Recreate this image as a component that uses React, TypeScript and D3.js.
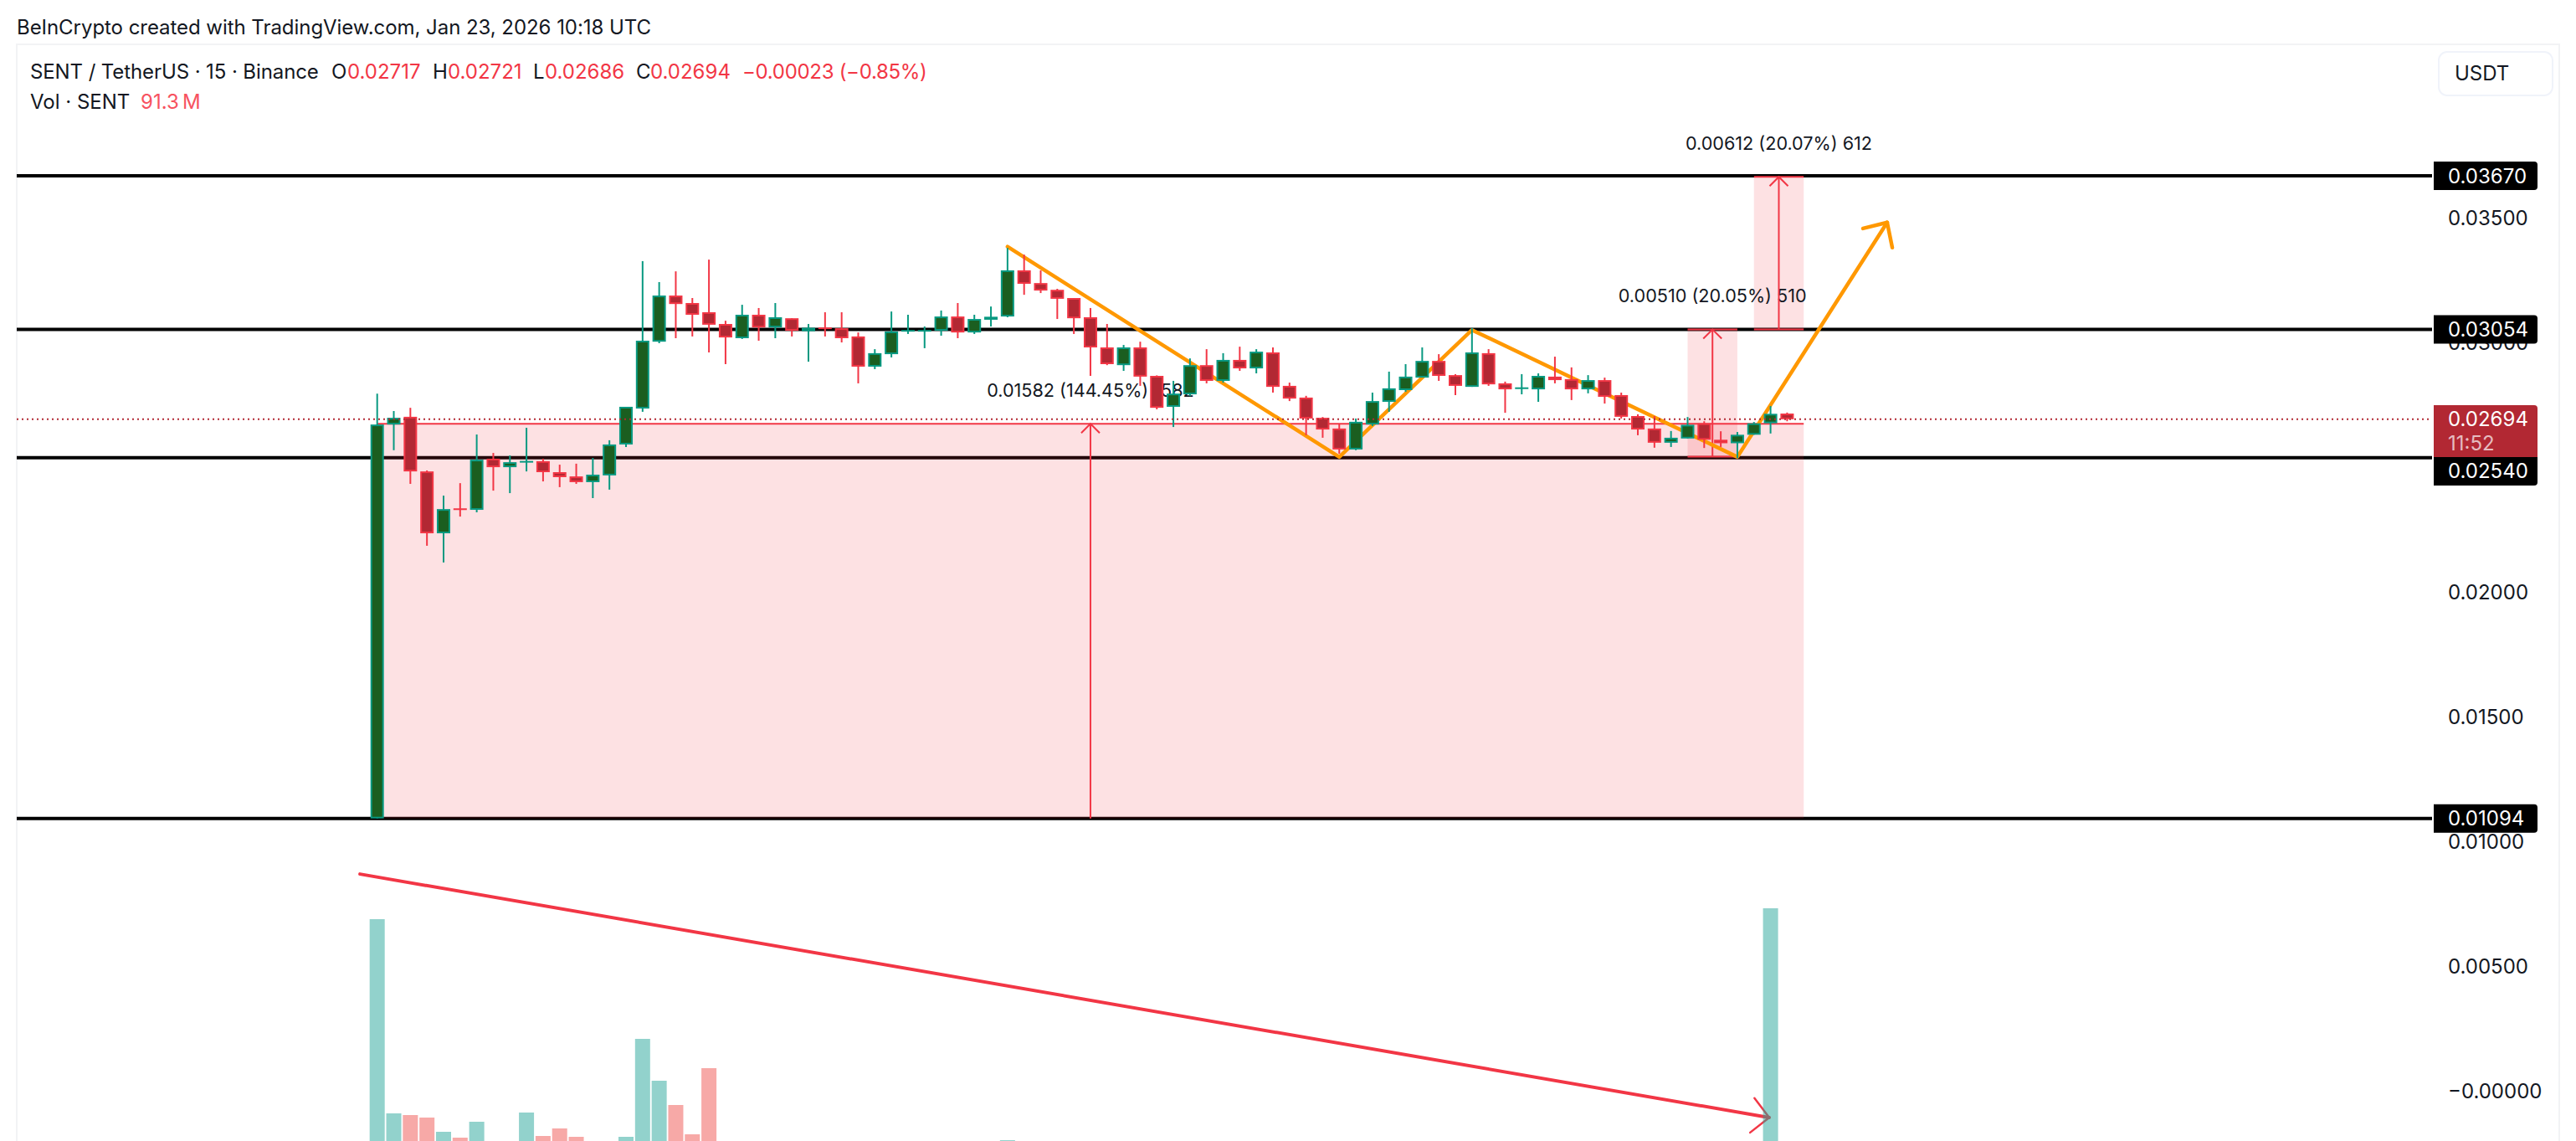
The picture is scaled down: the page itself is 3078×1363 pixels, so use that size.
import React from "react";
import * as d3 from "d3";

// All prices are stored in units of 0.00001 USDT.
const opens = [
  1094,2673,2704,2485,2237,2337,2331,2536,2502,2525,
  2526,2482,2465,2442,2469,2593,2737,3005,3190,3160,
  3123,3076,3019,3113,3062,3099,3047,3062,3059,3026,
  2905,2955,3050,3050,3049,3106,3042,3093,3106,3291,
  3240,3213,3180,3103,2982,2911,2982,2868,2744,2794,
  2911,2848,2932,2898,2962,2828,2781,2700,2657,2573,
  2673,2764,2811,2861,2928,2871,2824,2959,2838,2820,
  2814,2865,2855,2814,2851,2791,2707,2657,2600,2617,
  2678,2612,2598,2632,2678,2717];
const closes = [
  2673,2700,2485,2237,2334,2334,2532,2502,2522,2527,
  2482,2462,2442,2472,2593,2744,3009,3190,3156,3113,
  3073,3022,3113,3062,3103,3049,3061,3060,3019,2905,
  2959,3046,3052,3052,3106,3042,3096,3105,3291,3237,
  3210,3177,3099,2982,2915,2982,2865,2740,2797,2911,
  2848,2932,2898,2965,2824,2777,2697,2653,2573,2684,
  2767,2818,2865,2928,2868,2828,2962,2834,2814,2822,
  2868,2851,2814,2851,2784,2704,2653,2600,2620,2672,
  2612,2598,2632,2678,2716,2694];
const highs = [
  2797,2727,2740,2489,2388,2438,2633,2559,2549,2660,
  2536,2512,2516,2539,2610,2744,3328,3244,3287,3180,
  3334,3089,3153,3140,3160,3099,3076,3123,3123,3042,
  2975,3126,3113,3066,3130,3160,3113,3146,3381,3354,
  3291,3217,3180,3140,3076,2992,3005,2870,2848,2938,
  2975,2959,2985,2975,2982,2841,2788,2703,2675,2697,
  2801,2885,2915,2982,2955,2875,3060,2975,2845,2875,
  2878,2945,2902,2871,2861,2801,2714,2707,2647,2703,
  2686,2646,2643,2683,2747,2721];
const lows = [
  1094,2570,2435,2187,2120,2304,2321,2408,2398,2485,
  2445,2422,2435,2378,2412,2583,2724,2999,3019,3026,
  2962,2915,3016,3009,3019,3026,2925,3026,3002,2838,
  2895,2942,3036,2979,3029,3019,3036,3066,3103,3193,
  3200,3096,3036,2868,2911,2888,2828,2734,2663,2787,
  2838,2841,2888,2878,2801,2767,2630,2620,2556,2570,
  2667,2724,2804,2861,2848,2791,2824,2828,2720,2794,
  2764,2838,2771,2798,2757,2697,2630,2580,2583,2617,
  2579,2583,2538,2632,2637,2686];
// Volume in millions; 0 = hidden below the cropped edge of the picture.
const volumes = [
  5400,760,720,660,320,180,560,0,0,780,
  220,400,200,0,0,200,2540,1540,960,260,
  1840,0,0,0,0,0,0,0,0,0,
  0,0,0,0,0,0,0,0,120,0,
  0,0,0,0,0,0,0,0,0,0,
  0,0,0,0,0,0,0,0,0,0,
  0,0,0,0,0,0,0,0,0,0,
  0,0,0,0,0,0,0,0,0,0,
  0,0,0,0,5660,91.3];

const axisTicks = [3500, 3000, 2500, 2000, 1500, 1000, 500];
const zeroTickLabel = "\u22120.00000";
const horizontalLevels = [3670, 3054, 2540, 1094];
const lastPrice = 2694;

// [startIndex, endIndex, bottom, top, label]
const ranges: [number, number, number, number, string][] = [
  [0, 86, 1094, 2676, "0.01582 (144.45%) 1582"],
  [79, 82, 2544, 3054, "0.00510 (20.05%) 510"],
  [83, 86, 3054, 3666, "0.00612 (20.07%) 612"],
];
const orangePath: [number, number][] = [[38, 3386], [58, 2543], [66, 3052], [82, 2543], [91.03, 3483]];
const orangeHead: [number, number][] = [[89.57, 3459], [91.03, 3483], [91.34, 3382]];
const volTrend: [number, number][] = [[-1.04, 871], [83.92, -105]];
const volHead: [number, number][] = [[83.03, -27], [83.92, -105], [82.77, -165]];

const GREEN = "#089981", GREEN_FILL = "#1b5e20", RED = "#f23645", RED_FILL = "#b22833";
const INK = "#131722";
const FONT = "Inter, 'Noto Sans', sans-serif";

const x = d3.scaleLinear().domain([0, 85]).range([450.7, 2135.4]);
const y = d3.scaleLinear().domain([0, 3670]).range([1303.7, 210]);
const yv = d3.scaleLinear().domain([0, 6000]).range([1368, 1068]);
const lineGen = d3.line<[number, number]>().x((d) => x(d[0])).y((d) => y(d[1]));
const fmt = (v: number) => (v / 100000).toFixed(5);

function PriceTag({ value, fill, h = 34 }: { value: number; fill: string; h?: number }) {
  const cy = y(value);
  return (
    <g>
      <path d={`M2908 ${cy - h / 2}H3028a4 4 0 0 1 4 4V${cy + h / 2 - 4}a4 4 0 0 1 -4 4H2908Z`} fill={fill} />
      <text x={2925} y={cy} dy="0.36em" fontSize={24} fill="#fff">{fmt(value)}</text>
    </g>
  );
}

export default function App() {
  const n = opens.length;
  const idx = d3.range(n);
  return (
    <svg width={3078} height={1363} viewBox="0 0 3078 1363"
      style={{ position: "absolute", left: 0, top: 0, background: "#fff" }} fontFamily={FONT}>
      <text x={20} y={32} dy="0.36em" fontSize={24} letterSpacing={-0.05} fill={INK}>BeInCrypto created with TradingView.com, Jan 23, 2026 10:18 UTC</text>
      <path d="M20 1363V53H3058V1363" fill="none" stroke="#f2f3f5" strokeWidth={2} />

      {/* levels */}
      {horizontalLevels.map((l) => (
        <line key={l} x1={20} x2={2906} y1={y(l)} y2={y(l)} stroke="#000" strokeWidth={4} />
      ))}

      {/* price ranges */}
      {ranges.map(([a, b, lo, hi], i) => (
        <rect key={i} x={x(a)} width={x(b) - x(a)} y={y(hi)} height={y(lo) - y(hi)} fill={RED} fillOpacity={0.15} />
      ))}
      {ranges.map(([a, b, lo, hi, label], i) => {
        const mx = x((a + b) / 2);
        const ly = y(hi);
        return (
          <g key={i} stroke={RED} fill="none" strokeWidth={2}>
            <line x1={x(a)} x2={x(b)} y1={ly} y2={ly} />
            {i > 0 && <line x1={x(a)} x2={x(b)} y1={y(lo)} y2={y(lo)} />}
            <line x1={mx} x2={mx} y1={y(lo)} y2={ly} />
            <path d={`M${mx - 11} ${ly + 11}L${mx} ${ly}L${mx + 11} ${ly + 11}`} />
            <text x={mx} y={ly - 40} dy="0.36em" textAnchor="middle" fontSize={21.6} fill={INK} stroke="none">{label}</text>
          </g>
        );
      })}

      {/* orange pattern */}
      <g fill="none" stroke="#ff9800" strokeWidth={4.5} strokeLinecap="round" strokeLinejoin="round">
        <path d={lineGen(orangePath)!} />
        <path d={lineGen(orangeHead)!} />
      </g>

      {/* volume trend */}
      <g fill="none" stroke={RED} strokeLinecap="round" strokeLinejoin="round">
        <path d={lineGen(volTrend)!} strokeWidth={4} />
        <path d={lineGen(volHead)!} strokeWidth={2.5} />
      </g>

      {/* volume */}
      {idx.filter((i) => volumes[i] > 0).map((i) => (
        <rect key={i} x={x(i) - 9} width={18} y={yv(volumes[i])} height={Math.max(0, yv(0) - yv(volumes[i]))}
          fill={closes[i] >= opens[i] ? "#26a69a" : "#ef5350"} fillOpacity={0.5} />
      ))}

      {/* candles */}
      {idx.map((i) => {
        const up = closes[i] >= opens[i];
        const top = y(Math.max(opens[i], closes[i]));
        const bot = y(Math.min(opens[i], closes[i]));
        const h = Math.max(2, bot - top);
        const cx = x(i);
        return (
          <g key={i}>
            <line x1={cx} x2={cx} y1={y(highs[i])} y2={y(lows[i])} stroke={up ? GREEN : RED} strokeWidth={2} />
            <rect x={cx - 8} width={16} y={top} height={h} fill={up ? GREEN : RED} />
            {h > 4 && <rect x={cx - 6} width={12} y={top + 2} height={h - 4} fill={up ? GREEN_FILL : RED_FILL} />}
          </g>
        );
      })}

      {/* last price line */}
      <line x1={20} x2={2906} y1={y(lastPrice)} y2={y(lastPrice)} stroke={RED_FILL} strokeWidth={2} strokeDasharray="2 4" />

      {/* legend */}
      <g fontSize={24} fill={INK}>
        <text x={36} y={85} dy="0.36em" letterSpacing={-0.1}>SENT / TetherUS · 15 · Binance</text>
        <text x={396} y={85} dy="0.36em">O</text>
        <text x={415} y={85} dy="0.36em" fill={RED}>0.02717</text>
        <text x={517} y={85} dy="0.36em">H</text>
        <text x={535} y={85} dy="0.36em" fill={RED}>0.02721</text>
        <text x={637} y={85} dy="0.36em">L</text>
        <text x={651} y={85} dy="0.36em" fill={RED}>0.02686</text>
        <text x={760} y={85} dy="0.36em">C</text>
        <text x={777} y={85} dy="0.36em" fill={RED}>0.02694</text>
        <text x={887} y={85} dy="0.36em" fill={RED} letterSpacing={-0.3}>−0.00023 (−0.85%)</text>
        <text x={36} y={121} dy="0.36em">Vol · SENT</text>
        <text x={168} y={121} dy="0.36em" fill="#f7525f">91.3{"\u2009"}M</text>
      </g>

      {/* USDT button */}
      <rect x={2914} y={62} width={136} height={52} rx={10} fill="#fff" stroke="#f0f3fa" strokeWidth={2} />
      <text x={2933} y={87.5} dy="0.36em" fontSize={24} fill={INK}>USDT</text>

      {/* axis */}
      <g fontSize={24} fill={INK}>
        {axisTicks.map((t) => (
          <text key={t} x={2925} y={y(t)} dy="0.36em">{fmt(t)}</text>
        ))}
        <text x={2925} y={y(0)} dy="0.36em">{zeroTickLabel}</text>
      </g>

      {/* price tags */}
      <PriceTag value={3670} fill="#000" />
      <PriceTag value={3054} fill="#000" />
      <path d={`M2908 484H3028a4 4 0 0 1 4 4V546H2908Z`} fill={RED_FILL} />
      <text x={2925} y={y(lastPrice)} dy="0.36em" fontSize={24} fill="#fff">{fmt(lastPrice)}</text>
      <text x={2925} y={529} dy="0.36em" fontSize={24} fill="#fff" fillOpacity={0.7}>11:52</text>
      <path d={`M2908 546H3032V576a4 4 0 0 1 -4 4H2908Z`} fill="#000" />
      <text x={2925} y={562} dy="0.36em" fontSize={24} fill="#fff">{fmt(2540)}</text>
      <PriceTag value={1094} fill="#000" />
    </svg>
  );
}
